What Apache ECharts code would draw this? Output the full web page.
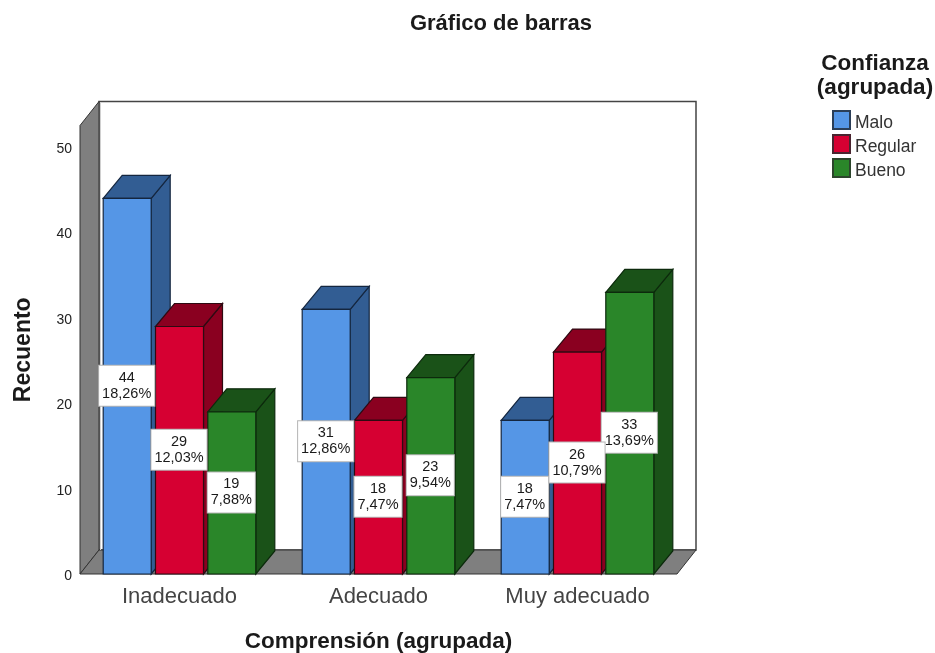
<!DOCTYPE html>
<html>
<head>
<meta charset="utf-8">
<style>html,body{margin:0;padding:0;background:#fff}#chart{width:935px;height:653px}</style>
<script src="https://cdn.jsdelivr.net/npm/echarts@6/dist/echarts.min.js"></script>
</head>
<body>
<div id="chart"></div>
<script>
var categories = ['Inadecuado', 'Adecuado', 'Muy adecuado'];
var seriesNames = ['Malo', 'Regular', 'Bueno'];
var maloValues = [44, 31, 18];
var regularValues = [29, 18, 26];
var buenoValues = [19, 23, 33];
var maloPct = ['18,26%', '12,86%', '7,47%'];
var regularPct = ['12,03%', '7,47%', '10,79%'];
var buenoPct = ['7,88%', '9,54%', '13,69%'];
var yTicks = [0, 10, 20, 30, 40, 50];

var FONT = '"Liberation Sans", Arial, sans-serif';
var Y_MAX = 52.55;
var WALL_DX = 19, WALL_DY = 24;   // profundidad de la caja
var BAR_DX = 19, BAR_DY = 23;
var BAR_W = 48 / 199, BAR_STEP = 52.3 / 199;   // fraccion de la banda

function pts(a) { return { points: a }; }

function renderWalls(params, api) {
    var o = api.coord([0, 0]);
    var band = api.size([1, 0])[0];
    var left = o[0] - band / 2, bottom = o[1];
    var right = left + band * categories.length;
    var top = api.coord([0, Y_MAX])[1];
    var dx = WALL_DX, dy = WALL_DY;
    var line = { stroke: '#333', lineWidth: 1 };
    return {
        type: 'group',
        children: [
            { type: 'polygon', z2: 1, shape: pts([[left + dx, top - dy], [right + dx, top - dy], [right + dx, bottom - dy], [left + dx, bottom - dy]]),
              style: { fill: '#fff', stroke: '#444', lineWidth: 1.5 } },
            { type: 'polygon', z2: 2, shape: pts([[left, bottom], [left + dx, bottom - dy], [left + dx, top - dy], [left, top]]),
              style: Object.assign({ fill: '#7f7f7f' }, line) },
            { type: 'polygon', z2: 2, shape: pts([[left, bottom], [left + dx, bottom - dy], [right + dx, bottom - dy], [right, bottom]]),
              style: Object.assign({ fill: '#7f7f7f' }, line) },
            { type: 'line', z2: 3, shape: { x1: left + dx + 1.5, y1: top - dy + 1, x2: left + dx + 1.5, y2: bottom - dy },
              style: { stroke: '#d0d0d0', lineWidth: 1 } }
        ]
    };
}

function makeRenderBar(idx, front, side, edge, pctList, labelZ) {
    return function (params, api) {
        var cat = api.value(0), val = api.value(1);
        var c = api.coord([cat, val]);
        var base = api.coord([cat, 0]);
        var band = api.size([1, 0])[0];
        var w = band * BAR_W;
        var cx = c[0] + band * BAR_STEP * (idx - 1);
        var l = cx - w / 2, r = cx + w / 2, t = c[1], b = base[1];
        var dx = BAR_DX, dy = BAR_DY;
        var z = 10 + idx * 2;
        var st = function (fill) { return { fill: fill, stroke: edge, lineWidth: 1.2 }; };
        return {
            type: 'group',
            children: [
                { type: 'polygon', z2: z, shape: pts([[r, b], [r + dx, b - dy], [r + dx, t - dy], [r, t]]), style: st(side) },
                { type: 'polygon', z2: z, shape: pts([[l, t], [l + dx, t - dy], [r + dx, t - dy], [r, t]]), style: st(side) },
                { type: 'rect', z2: z + 1, shape: { x: l, y: t, width: w, height: b - t }, style: st(front) },
                { type: 'text', z2: labelZ,
                  style: {
                      x: cx - 0.5, y: (t + b) / 2 - 0.5,
                      text: val + '\n' + pctList[params.dataIndex],
                      align: 'center', verticalAlign: 'middle',
                      font: '14.5px ' + FONT, lineHeight: 16, fill: '#1a1a1a',
                      backgroundColor: '#fff', borderColor: '#b5b5b5', borderWidth: 1,
                      padding: [4, 3, 4, 3]
                  } }
            ]
        };
    };
}

function toData(values) {
    return values.map(function (v, i) { return [i, v]; });
}

var chart = echarts.init(document.getElementById('chart'));
chart.setOption({
    animation: false,
    backgroundColor: '#fff',
    textStyle: { fontFamily: FONT },
    title: [
        { text: 'Gráfico de barras', left: 501, top: 13, padding: 0, textAlign: 'center',
          textStyle: { fontFamily: FONT, fontSize: 22, fontWeight: 'bold', color: '#1a1a1a' } },
        { text: 'Confianza\n(agrupada)', left: 875, top: 52, padding: 0, textAlign: 'center',
          textStyle: { fontFamily: FONT, fontSize: 22.5, fontWeight: 'bold', color: '#1a1a1a', lineHeight: 24 } }
    ],
    legend: {
        left: 832, top: 108, padding: 0, orient: 'vertical', icon: 'rect', itemWidth: 17, itemHeight: 18, itemGap: 0,
        selectedMode: false, data: seriesNames,
        formatter: '{t|{name}}',
        textStyle: { rich: { t: { fontFamily: FONT, fontSize: 17.5, color: '#333', lineHeight: 16, padding: [6, 0, 0, 0] } } }
    },
    grid: { left: 80, right: 258, top: 125.5, bottom: 79, outerBoundsMode: 'none' },
    xAxis: {
        type: 'category', data: categories,
        name: 'Comprensión (agrupada)', nameLocation: 'middle', nameGap: 56,
        nameTextStyle: { fontFamily: FONT, fontSize: 22.5, fontWeight: 'bold', color: '#1a1a1a' },
        axisLine: { show: false }, axisTick: { show: false },
        axisLabel: { fontFamily: FONT, fontSize: 22, color: '#444', margin: 12 }
    },
    yAxis: {
        type: 'value', min: 0, max: Y_MAX,
        name: 'Recuento', nameLocation: 'middle', nameGap: 45,
        nameTextStyle: { fontFamily: FONT, fontSize: 23, fontWeight: 'bold', color: '#1a1a1a' },
        axisLine: { show: false }, axisTick: { show: false }, splitLine: { show: false },
        axisLabel: { customValues: yTicks, margin: 8, formatter: '{t|{value}}',
            rich: { t: { fontFamily: FONT, fontSize: 14, color: '#222', lineHeight: 14, padding: [4, 0, 0, 0] } } }
    },
    series: [
        { type: 'custom', name: 'walls', renderItem: renderWalls, data: [[0, 0]], clip: false, silent: true, encode: { x: 0, y: 1 } },
        { type: 'custom', name: 'Malo', renderItem: makeRenderBar(0, '#5596e6', '#325d93', '#14263f', maloPct, 100), data: toData(maloValues),
          encode: { x: 0, y: 1 }, clip: false, itemStyle: { color: '#5596e6', borderColor: '#2b3e57', borderWidth: 1 } },
        { type: 'custom', name: 'Regular', renderItem: makeRenderBar(1, '#d60032', '#8a0020', '#2e0a12', regularPct, 102), data: toData(regularValues),
          encode: { x: 0, y: 1 }, clip: false, itemStyle: { color: '#d60032', borderColor: '#4a2530', borderWidth: 1 } },
        { type: 'custom', name: 'Bueno', renderItem: makeRenderBar(2, '#2a8629', '#1a5218', '#0c2a0c', buenoPct, 101), data: toData(buenoValues),
          encode: { x: 0, y: 1 }, clip: false, itemStyle: { color: '#2a8629', borderColor: '#2c452c', borderWidth: 1 } }
    ]
});
</script>
</body>
</html>
